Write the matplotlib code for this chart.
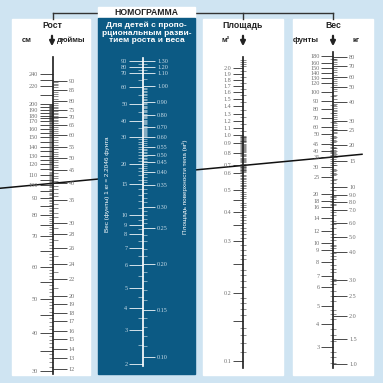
import numpy as np
import matplotlib
matplotlib.use("Agg")
import matplotlib.pyplot as plt
from matplotlib.patches import Rectangle
from matplotlib.ticker import FixedLocator, NullFormatter

# values
height_cm = [240, 220, 200, 190, 180, 170, 160, 150, 140, 130, 120, 110, 100, 90, 80, 70, 60, 50, 40, 30]
height_in = [90, 85, 80, 75, 70, 65, 60, 55, 50, 45, 40, 35, 30, 28, 26, 24, 22, 20, 19, 18, 17, 16, 15, 14, 13, 12]
child_lb = [90, 80, 70, 60, 50, 40, 30, 20, 15, 10, 9, 8, 7, 6, 5, 4, 3, 2]
child_m2 = [1.30, 1.20, 1.10, 1.00, 0.90, 0.80, 0.70, 0.60, 0.55, 0.50, 0.45, 0.40, 0.35, 0.30, 0.25, 0.20, 0.15, 0.10]
area_m2 = [2.0, 1.9, 1.8, 1.7, 1.6, 1.5, 1.4, 1.3, 1.2, 1.1, 1.0, 0.9, 0.8, 0.7, 0.6, 0.5, 0.4, 0.3, 0.2, 0.1]
weight_lb = [180, 160, 150, 140, 130, 120, 100, 90, 80, 70, 60, 50, 45, 40, 35, 30, 25, 20, 18, 16, 14, 12, 10, 9, 8, 7, 6, 5, 4, 3]
weight_kg = [80, 70, 60, 50, 40, 30, 25, 20, 15, 10, 9, 8, 7, 6, 5, 4, 3, 2.5, 2, 1.5, 1]
kg_fmt = ["80", "70", "60", "50", "40", "30", "25", "20", "15", "10", "9.0", "8.0", "7.0", "6.0", "5.0",
          "4.0", "3.0", "2.5", "2.0", "1.5", "1.0"]

# example reading drawn across the chart
sample_height_in = 40
sample_weight_lb = 35

LB_PER_KG = 2.2046
CM_PER_IN = 2.54

# scale calibration of the printed chart (value -> pixel row), the scales are not quite logarithmic
cal_height = ([29, 30, 40, 50, 60, 70, 80, 90, 100, 110, 120, 130, 140, 150, 160, 170, 180, 190, 200, 220, 240, 270],
              [374, 371, 333, 299, 267, 236, 215, 198, 185, 175, 164, 156, 147, 137, 129, 121, 116, 110, 104, 86, 74, 57])
cal_child_lb = ([1.95, 2, 3, 4, 5, 6, 7, 8, 9, 10, 15, 20, 30, 40, 50, 60, 70, 80, 90, 95.5],
                [366, 364, 330, 308, 288, 265, 248, 234, 225, 215, 184, 164, 137, 121, 104, 87, 73, 67, 61, 58])
cal_child_m2 = ([0.0925, 0.10, 0.15, 0.20, 0.25, 0.30, 0.35, 0.40, 0.45, 0.50, 0.55, 0.60, 0.70, 0.80, 0.90, 1.00,
                 1.10, 1.20, 1.30, 1.353],
                [366, 357, 310, 264, 228, 207, 185, 172, 162, 155, 147, 137, 127, 115, 102, 86, 73, 67, 61, 58])
cal_area = ([0.093, 0.1, 0.2, 0.3, 0.4, 0.5, 0.6, 0.7, 0.8, 0.9, 1.0, 1.1, 1.2, 1.3, 1.4, 1.5, 1.6, 1.7, 1.8, 1.9, 2.0, 2.28],
            [368, 361, 293, 241, 212, 190, 173, 165, 153, 143, 135, 128, 121, 114, 106, 99, 92, 86, 80, 74, 68, 57])
cal_weight = ([2.1, 2.2, 3, 4, 5, 6, 7, 8, 9, 10, 12, 14, 16, 18, 20, 25, 30, 35, 40, 45, 50, 60, 70, 80, 90, 100,
               120, 130, 140, 150, 160, 180, 193],
              [368, 364, 347, 324, 306, 287, 276, 262, 250, 243, 231, 218, 207, 201, 194, 177, 167, 157, 151, 144,
               134, 127, 118, 109, 101, 92, 83, 78, 73, 68, 63, 56, 52])

W = H = 383
BG = "#cfe4f2"
NAVY = "#0c5a84"
PT = 0.72  # points per pixel at dpi 100

plt.rcParams["font.family"] = ["Liberation Sans", "DejaVu Sans"]

fig = plt.figure(figsize=(W / 100, H / 100), dpi=100)
fig.patch.set_facecolor(BG)
bg = fig.add_axes([0, 0, 1, 1])
bg.set_xlim(0, W)
bg.set_ylim(H, 0)
bg.axis("off")


def funcs(cal, k=1.0):
    v = np.asarray(cal[0], float)
    p = np.asarray(cal[1], float)
    o = np.argsort(v)
    lv = np.log10(v[o])
    neg = -p[o]

    def fwd(x):
        x = np.clip(np.asarray(x, float) * k, 1e-9, None)
        return np.interp(np.log10(x), lv, neg)

    def inv(t):
        return 10 ** np.interp(t, neg, lv) / k
    return fwd, inv


def scale_axes(x, cal, color):
    top, bottom = min(cal[1]), max(cal[1])
    ax = fig.add_axes([x / W, 1 - bottom / H, 0.4 / W, (bottom - top) / H])
    ax.patch.set_visible(False)
    ax.xaxis.set_visible(False)
    for s in ["right", "top", "bottom"]:
        ax.spines[s].set_visible(False)
    ax.spines["left"].set_color(color)
    ax.spines["left"].set_linewidth(1.7 * PT)
    f, i = funcs(cal)
    ax.set_yscale("function", functions=(f, i))
    return ax


def twin_axes(ax, cal, k=1.0):
    ax2 = ax.twinx()
    ax2.patch.set_visible(False)
    for s in ax2.spines.values():
        s.set_visible(False)
    f, i = funcs(cal, k)
    ax2.set_yscale("function", functions=(f, i))
    return ax2


def set_ticks(ax, labeled, labels, extra, minor, side, major_len, minor_len, color, label_color,
              minor_dir="out", lo=None, hi=None):
    vals = list(labeled) + list(extra)
    ax.set_yticks(vals, labels=list(labels) + [""] * len(extra))
    ax.yaxis.set_minor_locator(FixedLocator(minor))
    ax.yaxis.set_minor_formatter(NullFormatter())
    ax.yaxis.set_ticks_position(side)
    ax.tick_params(axis="y", which="major", direction="out", length=major_len * PT, width=0.8 * PT,
                   color=color, labelcolor=label_color, labelsize=4.4, pad=1.2)
    ax.tick_params(axis="y", which="minor", direction=minor_dir, length=minor_len * PT, width=0.5 * PT,
                   color=color)
    for t in ax.get_yticklabels():
        t.set_family(["Liberation Serif", "DejaVu Serif"])
    ax.set_ylim(lo, hi)


# panels
bg.add_patch(Rectangle((12, 19), 78, 356, color="white", zorder=1))
bg.add_patch(Rectangle((203, 19), 80, 356, color="white", zorder=1))
bg.add_patch(Rectangle((293, 19), 80, 356, color="white", zorder=1))
bg.add_patch(Rectangle((98, 18), 97, 356, color=NAVY, zorder=4))

# bracket and title
bg.plot([53, 333], [13, 13], color="#333333", lw=1.0, zorder=2)
for xx in [53, 243, 333]:
    bg.plot([xx, xx], [13, 19], color="#333333", lw=1.0, zorder=2)
bg.add_patch(Rectangle((98, 7), 97, 10, color="white", zorder=3))
bg.text(146.5, 12.3, "НОМОГРАММА", ha="center", va="center", fontsize=6.2, fontweight="bold",
        color="#222222", zorder=5)

# column headers
hdr = dict(ha="center", va="center", fontweight="bold", color="#222222", zorder=5)
bg.text(52, 26, "Рост", fontsize=6.2, **hdr)
bg.text(27, 40, "см", fontsize=5.6, **hdr)
bg.text(57, 40, "дюймы", fontsize=5.6, ha="left", va="center", fontweight="bold", color="#222222", zorder=5)
bg.text(243, 26, "Площадь", fontsize=6.2, **hdr)
bg.text(226, 40, "м²", fontsize=5.6, **hdr)
bg.text(333, 26, "Вес", fontsize=6.2, **hdr)
bg.text(306, 41, "фунты", fontsize=5.6, **hdr)
bg.text(356, 41, "кг", fontsize=5.6, **hdr)
bg.text(146.5, 33, "Для детей с пропо-\nрциональным разви-\nтием роста и веса", ha="center", va="center",
        fontsize=6.0, fontweight="bold", color="white", linespacing=1.15, zorder=5)

for xx in [52, 243, 333]:
    bg.annotate("", xy=(xx, 49), xytext=(xx, 33),
                arrowprops=dict(arrowstyle="-|>", lw=1.6, color="#222222", mutation_scale=7), zorder=5)

# rotated captions in the middle column
bg.text(108, 184, "Вес (фунты) 1 кг = 2.2046 фунта", rotation=90, ha="center", va="center",
        fontsize=4.6, color="white", zorder=5)
bg.text(185, 187, "Площадь поверхности тела (м²)", rotation=90, ha="center", va="center",
        fontsize=4.6, color="white", zorder=5)

INK = "#222222"
GREY = "#6e6e6e"
PALE = "#c9dce8"

# height column
ax_h = scale_axes(52.5, cal_height, INK)
cm_extra = [230, 210] + [v for v in range(35, 200, 10)]
set_ticks(ax_h, height_cm, [str(v) for v in height_cm], cm_extra, list(range(30, 201)),
          "left", 13, 4, INK, GREY, lo=29, hi=270)
ax_hi = twin_axes(ax_h, cal_height, CM_PER_IN)
set_ticks(ax_hi, height_in, [str(v) for v in height_in], [], list(range(12, 91)),
          "right", 14, 5, INK, GREY, lo=29 / CM_PER_IN, hi=270 / CM_PER_IN)

# middle column: weight -> surface area for children
ax_c = scale_axes(143, cal_child_lb, "white")
lb_minor = list(np.arange(2, 10, 0.5)) + list(range(10, 30)) + list(range(30, 91, 5))
set_ticks(ax_c, child_lb, [str(v) for v in child_lb], [], lb_minor,
          "left", 14, 5, "white", PALE, lo=1.95, hi=95.5)
ax_cm = twin_axes(ax_c, cal_child_m2)
m2_minor = list(np.round(np.arange(0.10, 1.0, 0.01), 2)) + [1.05, 1.15, 1.25]
set_ticks(ax_cm, child_m2, ["%.2f" % v for v in child_m2], [], m2_minor,
          "right", 12, 4, "white", PALE, lo=0.0925, hi=1.353)

# surface area column
ax_a = scale_axes(243, cal_area, INK)
a_minor = list(np.round(np.arange(0.10, 1.0, 0.01), 2)) + list(np.round(np.arange(1.0, 2.2, 0.05), 2))
set_ticks(ax_a, area_m2, ["%.1f" % v for v in area_m2], [0.15, 0.25, 0.35, 0.45], a_minor,
          "left", 10, 6, INK, GREY, minor_dir="inout", lo=0.093, hi=2.28)

# weight column
ax_w = scale_axes(333, cal_weight, INK)
w_minor = (list(np.arange(2.25, 10, 0.25)) + list(np.arange(10, 20, 0.5)) + list(range(20, 50))
           + list(range(50, 100, 5)) + list(range(100, 185, 10)))
set_ticks(ax_w, weight_lb, [str(v) for v in weight_lb], [], w_minor,
          "left", 12, 6, INK, GREY, minor_dir="inout", lo=2.1, hi=193)
ax_wk = twin_axes(ax_w, cal_weight, LB_PER_KG)
kg_minor = list(range(10, 40)) + list(range(40, 81, 2))
set_ticks(ax_wk, weight_kg, kg_fmt, [], kg_minor,
          "right", 14, 4, INK, GREY, lo=2.1 / LB_PER_KG, hi=193 / LB_PER_KG)

# example reading line: height 40 in through weight 35 lb
to_bg = bg.transData.inverted()
p1 = to_bg.transform(ax_hi.transData.transform((0, sample_height_in)))
p2 = to_bg.transform(ax_w.transData.transform((0, sample_weight_lb)))
slope = (p2[1] - p1[1]) / (p2[0] - p1[0])
xs = np.array([0, 362])
bg.plot(xs, p1[1] + slope * (xs - p1[0]), color="#111111", lw=1.1, zorder=3)

fig.savefig("out.png", dpi=100, facecolor=BG)
